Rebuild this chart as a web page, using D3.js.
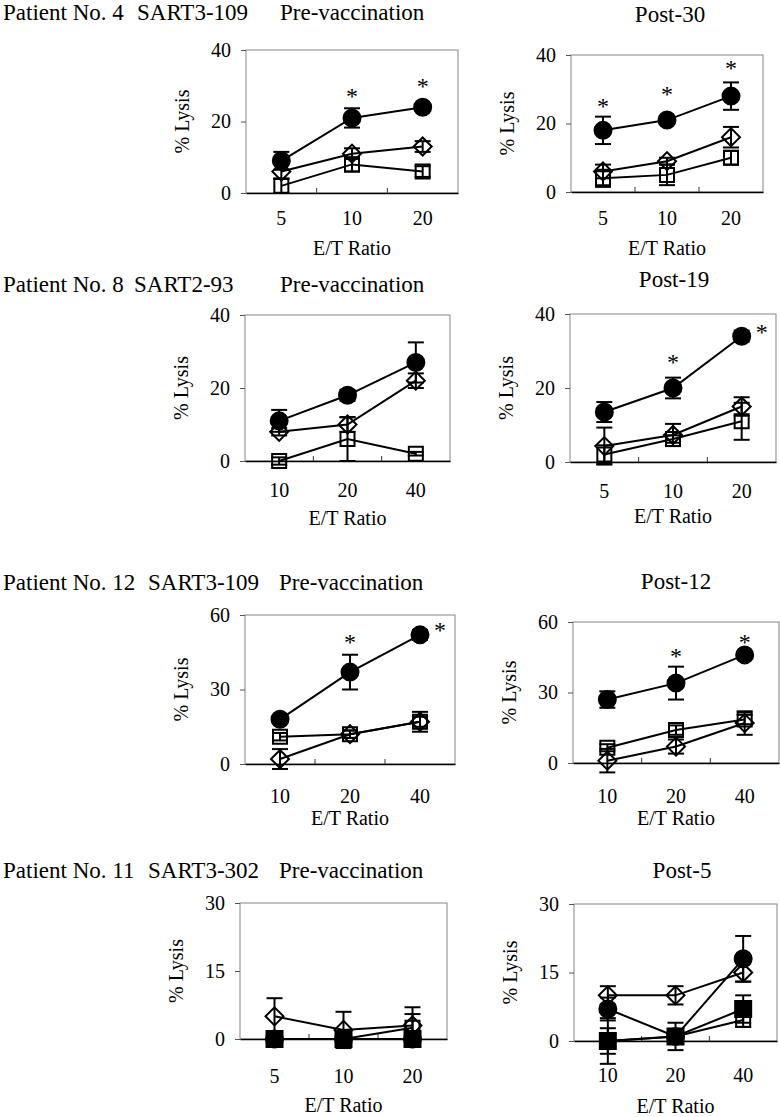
<!DOCTYPE html>
<html>
<head>
<meta charset="utf-8">
<script src="https://cdn.jsdelivr.net/npm/d3@7"></script>
<style>
  body { margin: 0; background: #fff; }
  svg text { font-family: "Liberation Serif", "Times New Roman", serif; fill: #000; }
</style>
</head>
<body>
<div id="chart"></div>
<script>
// E/T ratio categories
let ratioLow = ['5', '10', '20'];
let ratioHigh = ['10', '20', '40'];

let ticks40 = [0, 20, 40];
let ticks60 = [0, 30, 60];
let ticks30 = [0, 15, 30];

let patientLabels = ['Patient No. 4', 'Patient No. 8', 'Patient No. 12', 'Patient No. 11'];
let peptideLabels = ['SART3-109', 'SART2-93', 'SART3-109', 'SART3-302'];
let postLabels = ['Post-30', 'Post-19', 'Post-12', 'Post-5'];

// patient 4, pre-vaccination
let p4preCircle = [9, 21, 24],  p4preCircleErr = [2.5, 2.7, 0.8];
let p4preDiamond = [6, 11, 13], p4preDiamondErr = [2, 1.5, 1.5];
let p4preSquare = [2, 8, 6],    p4preSquareErr = [2, 2, 1.5];
let p4preStars = [[1, 28.3], [2, 31]];
// patient 4, post-30
let p4postCircle = [18, 21, 28], p4postCircleErr = [4, 1, 4];
let p4postDiamond = [6, 9, 16],  p4postDiamondErr = [2, 1, 3];
let p4postSquare = [4, 5, 10],   p4postSquareErr = [2.5, 3, 2];
let p4postStars = [[0, 26.3], [1, 29.8], [2, 37.4]];

// patient 8, pre-vaccination
let p8preCircle = [11, 18, 27], p8preCircleErr = [3, 1.5, 5.5];
let p8preDiamond = [8, 10, 22], p8preDiamondErr = [1, 2, 2];
let p8preSquare = [0, 6, 2],    p8preSquareErr = [1, 6, 0.5];
let p8preStars = [];
// patient 8, post-19
let p8postCircle = [13.5, 20, 34], p8postCircleErr = [2.7, 2.8, 1.5];
let p8postDiamond = [4.3, 7.3, 15], p8postDiamondErr = [5, 3, 2.5];
let p8postSquare = [2, 6.2, 11],   p8postSquareErr = [2.5, 1, 5];
let p8postStars = [[1, 28.1], [2, 36.2, 'right']];

// patient 12, pre-vaccination
let p12preCircle = [18, 37, 52], p12preCircleErr = [1.5, 7, 2];
let p12preSquare = [11, 12, 17], p12preSquareErr = [1.5, 1.5, 2];
let p12preDiamond = [2, 12, 17], p12preDiamondErr = [4, 1.5, 4];
let p12preStars = [[1, 50.7], [2, 55.6, 'right']];
// patient 12, post-12
let p12postCircle = [27, 34, 46],    p12postCircleErr = [3.5, 7, 1];
let p12postSquare = [6.5, 14, 18.5], p12postSquareErr = [1.5, 2, 2];
let p12postDiamond = [1, 7, 17],     p12postDiamondErr = [5, 3, 5];
let p12postStars = [[1, 47.2], [2, 53.2]];

// patient 11, pre-vaccination
let p11preCircle = [0, 0, 0],   p11preCircleErr = [1, 1, 1];
let p11preDiamond = [5, 2, 3],  p11preDiamondErr = [4, 4, 4];
let p11preSquare = [0, 0, 2.5], p11preSquareErr = [1, 1, 3];
let p11preFilled = [0, 0, 0],   p11preFilledErr = [1.5, 1, 1];
let p11preStars = [];
// patient 11, post-5
let p11postDiamond = [10, 10, 15], p11postDiamondErr = [2, 2, 2];
let p11postCircle = [7, 1, 18],    p11postCircleErr = [2.5, 1, 5];
let p11postSquare = [0, 1, 4.6],   p11postSquareErr = [5, 1, 1.5];
let p11postFilled = [0, 1, 7],     p11postFilledErr = [2.8, 3, 3];
let p11postStars = [];

let serif = '"Liberation Serif", "Times New Roman", serif';

function ser(shape, v, e) { return {shape: shape, v: v, e: e}; }

// box = [left, right, top, bottom]
let panels = [
  {cats: ratioLow, ticks: ticks40, box: [246, 458, 50, 193], tickDy: 32, labDy: 62,
   series: [ser('circle', p4preCircle, p4preCircleErr), ser('diamond', p4preDiamond, p4preDiamondErr), ser('square', p4preSquare, p4preSquareErr)], stars: p4preStars},
  {cats: ratioLow, ticks: ticks40, box: [571, 763, 55, 192], tickDy: 33, labDy: 63,
   series: [ser('circle', p4postCircle, p4postCircleErr), ser('diamond', p4postDiamond, p4postDiamondErr), ser('square', p4postSquare, p4postSquareErr)], stars: p4postStars},
  {cats: ratioHigh, ticks: ticks40, box: [245, 450, 315, 461], tickDy: 36, labDy: 64,
   series: [ser('circle', p8preCircle, p8preCircleErr), ser('diamond', p8preDiamond, p8preDiamondErr), ser('square', p8preSquare, p8preSquareErr)], stars: p8preStars},
  {cats: ratioLow, ticks: ticks40, box: [570, 776, 314, 462], tickDy: 36, labDy: 61,
   series: [ser('circle', p8postCircle, p8postCircleErr), ser('diamond', p8postDiamond, p8postDiamondErr), ser('square', p8postSquare, p8postSquareErr)], stars: p8postStars},
  {cats: ratioHigh, ticks: ticks60, box: [245, 455, 615, 764], tickDy: 39, labDy: 61,
   series: [ser('circle', p12preCircle, p12preCircleErr), ser('square', p12preSquare, p12preSquareErr), ser('diamond', p12preDiamond, p12preDiamondErr)], stars: p12preStars},
  {cats: ratioHigh, ticks: ticks60, box: [573, 779, 622, 763], tickDy: 40, labDy: 62,
   series: [ser('circle', p12postCircle, p12postCircleErr), ser('square', p12postSquare, p12postSquareErr), ser('diamond', p12postDiamond, p12postDiamondErr)], stars: p12postStars},
  {cats: ratioLow, ticks: ticks30, box: [240, 447, 903, 1039], tickDy: 44, labDy: 73,
   series: [ser('circle', p11preCircle, p11preCircleErr), ser('diamond', p11preDiamond, p11preDiamondErr), ser('square', p11preSquare, p11preSquareErr), ser('filled', p11preFilled, p11preFilledErr)], stars: p11preStars},
  {cats: ratioHigh, ticks: ticks30, box: [574, 777, 904, 1041], tickDy: 41, labDy: 72,
   series: [ser('diamond', p11postDiamond, p11postDiamondErr), ser('circle', p11postCircle, p11postCircleErr), ser('square', p11postSquare, p11postSquareErr), ser('filled', p11postFilled, p11postFilledErr)], stars: p11postStars}
];

// title rows: [leftBaseline, rightBaseline, peptideX, preX, postCenterX]
let titleRows = [[20, 22, 137, 280, 670], [292, 287, 134, 280, 674], [590, 589, 148, 279, 676], [878, 878, 148, 279, 682]];

let svg = d3.select('#chart').append('svg')
  .attr('width', 780).attr('height', 1117)
  .attr('font-family', serif);

titleRows.forEach((r, i) => {
  let g = svg.append('g').style('font-size', '23px');
  g.append('text').attr('x', 3).attr('y', r[0]).text(patientLabels[i]);
  g.append('text').attr('x', r[2]).attr('y', r[0]).text(peptideLabels[i]);
  g.append('text').attr('x', r[3]).attr('y', r[0]).text('Pre-vaccination');
  g.append('text').attr('x', r[4]).attr('y', r[1]).attr('text-anchor', 'middle').text(postLabels[i]);
});

let symCircle = d3.symbol().type(d3.symbolCircle).size(Math.PI * 8.5 * 8.5);
let symSquare = d3.symbol().type(d3.symbolSquare).size(14 * 14);
let symFilled = d3.symbol().type(d3.symbolSquare).size(16 * 16);
let symDiamond = d3.symbol().type(d3.symbolSquare).size(2 * 9 * 9);

panels.forEach(p => {
  let [L, R, T, B] = p.box;
  let x = d3.scaleBand().domain(p.cats).range([L, R]).padding(0);
  let y = d3.scaleLinear().domain([0, p.ticks[p.ticks.length - 1]]).range([B, T]);
  let cx = c => x(c) + x.bandwidth() / 2;
  let g = svg.append('g');

  g.append('rect').attr('x', L).attr('y', T).attr('width', R - L).attr('height', B - T)
    .attr('fill', 'none').attr('stroke', '#858585').attr('stroke-width', 1);

  let ya = g.append('g').attr('transform', `translate(${L},0)`)
    .call(d3.axisLeft(y).tickValues(p.ticks).tickSize(5).tickPadding(10));
  ya.attr('font-family', serif).attr('font-size', 20);
  ya.select('.domain').remove();
  ya.selectAll('line').attr('stroke', '#555');

  let xa = g.append('g').attr('transform', `translate(0,${B})`)
    .call(d3.axisBottom(x).tickSize(0));
  xa.attr('font-family', serif).attr('font-size', 20);
  xa.select('.domain').attr('stroke', '#000').attr('stroke-width', 1.5);
  xa.selectAll('text').attr('y', p.tickDy).attr('dy', 0);

  // interior ticks between categories
  g.selectAll('.btick').data(p.cats.slice(1)).enter().append('line')
    .attr('x1', d => x(d)).attr('x2', d => x(d))
    .attr('y1', B).attr('y2', B - 5)
    .attr('stroke', '#333').attr('stroke-width', 1);

  g.append('text').attr('x', (L + R) / 2).attr('y', B + p.labDy)
    .attr('text-anchor', 'middle').style('font-size', '20px').text('E/T Ratio');
  g.append('text').attr('transform', `translate(${L - 57},${(T + B) / 2}) rotate(-90)`)
    .attr('text-anchor', 'middle').style('font-size', '20px').text('% Lysis');

  let line = d3.line().x((d, i) => cx(p.cats[i])).y(d => y(d));
  p.series.forEach(s => {
    g.append('path').attr('d', line(s.v)).attr('fill', 'none')
      .attr('stroke', '#000').attr('stroke-width', 2);
  });

  p.series.forEach(s => {
    s.v.forEach((v, i) => {
      let xc = cx(p.cats[i]);
      let y1 = y(v - s.e[i]), y2 = y(v + s.e[i]);
      g.append('line').attr('x1', xc).attr('x2', xc).attr('y1', y1).attr('y2', y2)
        .attr('stroke', '#000').attr('stroke-width', 2);
      [y1, y2].forEach(yy => {
        g.append('line').attr('x1', xc - 8).attr('x2', xc + 8).attr('y1', yy).attr('y2', yy)
          .attr('stroke', '#000').attr('stroke-width', 2);
      });
    });
  });

  p.series.forEach(s => {
    s.v.forEach((v, i) => {
      let xc = cx(p.cats[i]);
      let m = g.append('path').attr('stroke', '#000').attr('stroke-width', 2);
      if (s.shape === 'circle') {
        m.attr('d', symCircle()).attr('fill', '#000').attr('transform', `translate(${xc},${y(v)})`);
      } else if (s.shape === 'filled') {
        m.attr('d', symFilled()).attr('fill', '#000').attr('transform', `translate(${xc},${y(v)})`);
      } else if (s.shape === 'square') {
        m.attr('d', symSquare()).attr('fill', 'none').attr('transform', `translate(${xc},${y(v)})`);
      } else {
        m.attr('d', symDiamond()).attr('fill', 'none').attr('transform', `translate(${xc},${y(v)}) rotate(45)`);
      }
    });
  });

  p.stars.forEach(st => {
    let xc = cx(p.cats[st[0]]) + (st[2] === 'right' ? 20 : 0);
    g.append('text').attr('x', xc).attr('y', y(st[1]) + 12)
      .attr('text-anchor', 'middle').style('font-size', '24px').text('*');
  });
});
</script>
</body>
</html>
